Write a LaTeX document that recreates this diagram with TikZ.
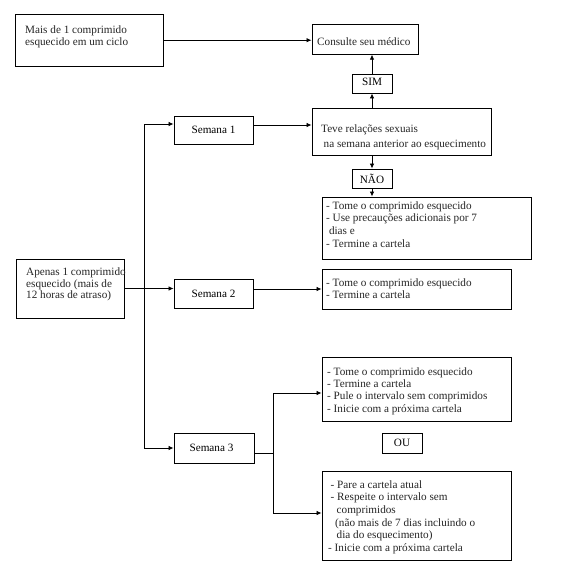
\documentclass[tikz,border=0pt]{standalone}
\usepackage{fontspec}
\setmainfont{Liberation Serif}
\usetikzlibrary{arrows.meta,calc}
\begin{document}
\begin{tikzpicture}[x=1pt,y=-1pt,
  font=\fontsize{11.2}{12.6}\selectfont,
  box/.style={draw=black,line width=0.9pt,inner sep=0pt,rectangle},
  txt/.style={anchor=north west,inner sep=0pt,align=left,text=black!85},
  arr/.style={draw=black,line width=0.8pt,-{Latex[length=5pt,width=4.5pt]}},
  ln/.style={draw=black,line width=0.8pt}]
\useasboundingbox[fill=white] (0,0) rectangle (563,576);

% boxes
\node[box,minimum width=148pt,minimum height=52pt] (A) at (89.7,40.2) {};
\node[box,minimum width=106pt,minimum height=30pt] (cons) at (365,39.2) {};
\node[box,minimum width=40pt,minimum height=19pt] (sim) at (372,83.5) {\raisebox{2.5pt}{SIM}};
\node[box,minimum width=179pt,minimum height=47pt] (teve) at (401.5,131.5) {};
\node[box,minimum width=40pt,minimum height=19pt] (nao) at (372,178.5) {NÃO};
\node[box,minimum width=209pt,minimum height=62pt] (t1) at (426.5,228) {};
\node[box,minimum width=108pt,minimum height=59pt] (ap) at (70,288.5) {};
\node[box,minimum width=79pt,minimum height=28pt] (s1) at (213.5,130) {Semana 1};
\node[box,minimum width=79pt,minimum height=29pt] (s2) at (213.5,293.5) {Semana 2};
\node[box,minimum width=80pt,minimum height=30pt] (s3) at (214,448) {Semana 3\hspace*{5pt}};
\node[box,minimum width=40pt,minimum height=20pt] (ou) at (402,443) {\raisebox{-3pt}{OU}};
\node[box,minimum width=189pt,minimum height=40pt] (t2) at (416.5,289) {};
\node[box,minimum width=189pt,minimum height=64pt] (t3) at (416.5,389) {};
\node[box,minimum width=189pt,minimum height=89pt] (pare) at (416.5,515.5) {};

% texts
\node[txt,font=\fontsize{11.2}{12.7}\selectfont] (At) at (25,25.3) {Mais de 1 comprimido\\esquecido em um ciclo};
\node[txt] (const) at (317,37.3) {Consulte seu médico};
\node[txt,font=\fontsize{11.2}{14.8}\selectfont] (tevet) at (321,124.6) {Teve relações sexuais\\\hspace*{2.5pt}na semana anterior ao esquecimento};
\node[txt] (t1t) at (326,201.3) {- Tome o comprimido esquecido\\- Use precauções adicionais por 7\\\hspace*{2.8pt}dias e\\- Termine a cartela};
\node[txt,font=\fontsize{11.2}{11.8}\selectfont] (apt) at (26,267.3) {Apenas 1 comprimido\\esquecido (mais de\\12 horas de atraso)};
\node[txt] (t2t) at (326,278.3) {- Tome o comprimido esquecido\\- Termine a cartela};
\node[txt,font=\fontsize{11.2}{12.3}\selectfont] (t3t) at (327,367.3) {- Tome o comprimido esquecido\\- Termine a cartela\\- Pule o intervalo sem comprimidos\\- Inicie com a próxima cartela};
\node[txt] (paret) at (328,480.3) {\hspace*{2.5pt}- Pare a cartela atual\\\hspace*{2.5pt}- Respeite o intervalo sem\\\hspace*{8.5pt}comprimidos\\\hspace*{7pt}(não mais de 7 dias incluindo o\\\hspace*{8.5pt}dia do esquecimento)\\- Inicie com a próxima cartela};

% connectors
\draw[arr] (A.east) -- (A.east -| cons.west);
\draw[arr] (sim.south |- teve.north) -- (sim.south);
\draw[arr] (sim.north) -- (sim.north |- cons.south);
\draw[arr] (nao.north |- teve.south) -- (nao.north);
\draw[arr] (nao.south) -- (nao.south |- t1.north);
\coordinate (s1o) at ($(s1.east)+(0,-5)$);
\draw[arr] (s1o) -- (s1o -| teve.west);

\coordinate (j1) at (144,124);
\coordinate (j3) at (144,448);
\draw[arr] (j1) -- (j1 -| s1.west);
\draw[arr] (j1) -- (j3) -- (s3.west);
\draw[arr] (ap.east) -- (ap.east -| s2.west);
\draw[arr] (t2.west -| s2.east) -- (t2.west);

\coordinate (s3o) at ($(s3.east)+(0,5)$);
\coordinate (k) at (273,453);
\coordinate (kt) at (273,393);
\coordinate (kb) at (273,513);
\draw[ln] (s3o) -- (k);
\draw[arr] (k) -- (kt) -- (kt -| t3.west);
\draw[arr] (k) -- (kb) -- (kb -| pare.west);
\end{tikzpicture}
\end{document}
